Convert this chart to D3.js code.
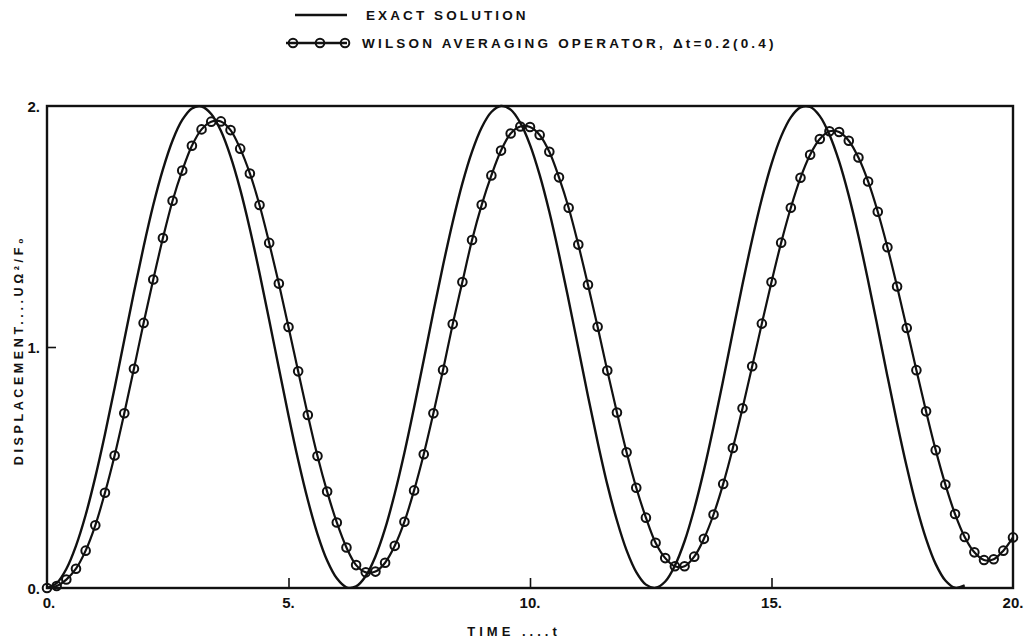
<!DOCTYPE html>
<html>
<head>
<meta charset="utf-8">
<script src="https://cdn.jsdelivr.net/npm/d3@7/dist/d3.min.js"></script>
<style>
  html, body { margin: 0; padding: 0; background: #fff; }
  svg { display: block; }
  text { font-family: "Liberation Sans", "DejaVu Sans", sans-serif; font-weight: bold; fill: #111; }
</style>
</head>
<body>
<svg id="chart" width="1036" height="639"></svg>
<script>
// ---- data ----
const exactTimes = [0,0.2,0.4,0.6,0.8,1,1.2,1.4,1.6,1.8,2,2.2,2.4,2.6,2.8,3,3.2,3.4,3.6,3.8,4,4.2,4.4,4.6,4.8,5,5.2,5.4,5.6,5.8,6,6.2,6.4,6.6,6.8,7,7.2,7.4,7.6,7.8,8,8.2,8.4,8.6,8.8,9,9.2,9.4,9.6,9.8,10,10.2,10.4,10.6,10.8,11,11.2,11.4,11.6,11.8,12,12.2,12.4,12.6,12.8,13,13.2,13.4,13.6,13.8,14,14.2,14.4,14.6,14.8,15,15.2,15.4,15.6,15.8,16,16.2,16.4,16.6,16.8,17,17.2,17.4,17.6,17.8,18,18.2,18.4,18.6,18.8,19];
const exactValues = [0,0.020,0.079,0.175,0.303,0.460,0.638,0.830,1.029,1.227,1.416,1.589,1.737,1.857,1.942,1.990,1.998,1.967,1.897,1.791,1.654,1.490,1.307,1.112,0.913,0.716,0.531,0.365,0.224,0.114,0.040,0.003,0.007,0.050,0.131,0.246,0.392,0.561,0.749,0.946,1.146,1.339,1.519,1.679,1.811,1.911,1.975,2.000,1.985,1.930,1.839,1.714,1.561,1.385,1.194,0.996,0.797,0.606,0.430,0.280,0.156,0.066,0.014,0.001,0.027,0.093,0.194,0.328,0.488,0.669,0.863,1.063,1.260,1.446,1.615,1.760,1.874,1.953,1.994,1.996,1.958,1.881,1.770,1.628,1.461,1.275,1.079,0.879,0.685,0.503,0.340,0.204,0.099,0.031,0.001,0.011];

const wilsonTimes = [0,0.2,0.4,0.6,0.8,1,1.2,1.4,1.6,1.8,2,2.2,2.4,2.6,2.8,3,3.2,3.4,3.6,3.8,4,4.2,4.4,4.6,4.8,5,5.2,5.4,5.6,5.8,6,6.2,6.4,6.6,6.8,7,7.2,7.4,7.6,7.8,8,8.2,8.4,8.6,8.8,9,9.2,9.4,9.6,9.8,10,10.2,10.4,10.6,10.8,11,11.2,11.4,11.6,11.8,12,12.2,12.4,12.6,12.8,13,13.2,13.4,13.6,13.8,14,14.2,14.4,14.6,14.8,15,15.2,15.4,15.6,15.8,16,16.2,16.4,16.6,16.8,17,17.2,17.4,17.6,17.8,18,18.2,18.4,18.6,18.8,19,19.2,19.4,19.6,19.8,20];
const wilsonValues = [0,0.008,0.035,0.080,0.155,0.260,0.395,0.550,0.725,0.910,1.100,1.280,1.452,1.607,1.732,1.835,1.903,1.935,1.936,1.900,1.823,1.720,1.589,1.432,1.263,1.083,0.899,0.718,0.548,0.400,0.272,0.168,0.095,0.065,0.068,0.105,0.175,0.275,0.405,0.555,0.725,0.905,1.095,1.270,1.444,1.590,1.712,1.815,1.886,1.915,1.913,1.880,1.810,1.704,1.578,1.425,1.258,1.084,0.902,0.728,0.563,0.416,0.292,0.188,0.124,0.090,0.090,0.130,0.204,0.305,0.432,0.581,0.746,0.920,1.097,1.270,1.433,1.578,1.702,1.798,1.863,1.895,1.892,1.856,1.786,1.687,1.561,1.414,1.251,1.079,0.904,0.733,0.572,0.429,0.307,0.212,0.148,0.116,0.119,0.155,0.210];

const xTickValues = [0, 5, 10, 15, 20];
const xTickLabels = ["0.", "5.", "10.", "15.", "20."];
const yTickValues = [0, 1, 2];
const yTickLabels = ["0.", "1.", "2."];

// ---- drawing ----
const svg = d3.select("#chart");
const x = d3.scaleLinear().domain([0, 20]).range([47, 1013]);
const y = d3.scaleLinear().domain([0, 2]).range([588, 106]);

const plot = svg.append("g");

// frame
plot.append("rect")
  .attr("x", x(0)).attr("y", y(2))
  .attr("width", x(20) - x(0)).attr("height", y(0) - y(2))
  .attr("fill", "none").attr("stroke", "#111").attr("stroke-width", 2.4);

// inner ticks
const xAxis = d3.axisBottom(x).tickValues([5, 10, 15]).tickSize(-10).tickFormat("");
plot.append("g").attr("transform", `translate(0,${y(0)})`).call(xAxis)
  .call(g => { g.select(".domain").remove(); g.selectAll("line").attr("stroke", "#111").attr("stroke-width", 1.6); });
const yAxis = d3.axisLeft(y).tickValues([1]).tickSize(-9).tickFormat("");
plot.append("g").attr("transform", `translate(${x(0)},0)`).call(yAxis)
  .call(g => { g.select(".domain").remove(); g.selectAll("line").attr("stroke", "#111").attr("stroke-width", 1.6); });

// tick labels
svg.append("g").selectAll("text").data(xTickValues).join("text")
  .attr("x", d => x(d) + (d === 0 ? 2 : 0))
  .attr("y", 608)
  .attr("text-anchor", "middle")
  .attr("font-size", 15)
  .text((d, i) => xTickLabels[i]);
svg.append("g").selectAll("text").data(yTickValues).join("text")
  .attr("x", 40)
  .attr("y", d => y(d) + 6)
  .attr("text-anchor", "end")
  .attr("font-size", 15)
  .text((d, i) => yTickLabels[i]);

// axis titles
svg.append("text").attr("x", 514).attr("y", 636).attr("text-anchor", "middle")
  .attr("font-size", 13).attr("letter-spacing", 4).text("TIME ....t");
svg.append("text").attr("transform", "translate(23,350) rotate(-90)").attr("text-anchor", "middle")
  .attr("font-size", 12.5).attr("letter-spacing", 3.6).text("DISPLACEMENT....UΩ²/F₀");

// exact line
const exactData = exactTimes.map((t, i) => [t, exactValues[i]]);
const line = d3.line().x(d => x(d[0])).y(d => y(d[1])).curve(d3.curveCatmullRom);
plot.append("path").datum(exactData).attr("d", line)
  .attr("fill", "none").attr("stroke", "#111").attr("stroke-width", 2.4);

// wilson line + markers
const wilsonData = wilsonTimes.map((t, i) => [t, wilsonValues[i]]);
plot.append("path").datum(wilsonData).attr("d", line)
  .attr("fill", "none").attr("stroke", "#111").attr("stroke-width", 2.2);
plot.append("g").selectAll("circle").data(wilsonData).join("circle")
  .attr("cx", d => x(d[0])).attr("cy", d => y(d[1])).attr("r", 4.3)
  .attr("fill", "none").attr("stroke", "#111").attr("stroke-width", 2);

// legend
const leg = svg.append("g");
leg.append("line").attr("x1", 295).attr("x2", 347).attr("y1", 15).attr("y2", 15)
  .attr("stroke", "#111").attr("stroke-width", 2.4);
leg.append("text").attr("x", 366).attr("y", 20).attr("font-size", 13.5).attr("letter-spacing", 3.1)
  .text("EXACT SOLUTION");
leg.append("line").attr("x1", 286).attr("x2", 347).attr("y1", 43).attr("y2", 43)
  .attr("stroke", "#111").attr("stroke-width", 2.4);
leg.selectAll("circle").data([293, 320, 345]).join("circle")
  .attr("cx", d => d).attr("cy", 43).attr("r", 4.3)
  .attr("fill", "none").attr("stroke", "#111").attr("stroke-width", 2);
leg.append("text").attr("x", 362).attr("y", 48).attr("font-size", 13.5).attr("letter-spacing", 3.2)
  .text("WILSON AVERAGING OPERATOR, Δt=0.2(0.4)");
</script>
</body>
</html>
